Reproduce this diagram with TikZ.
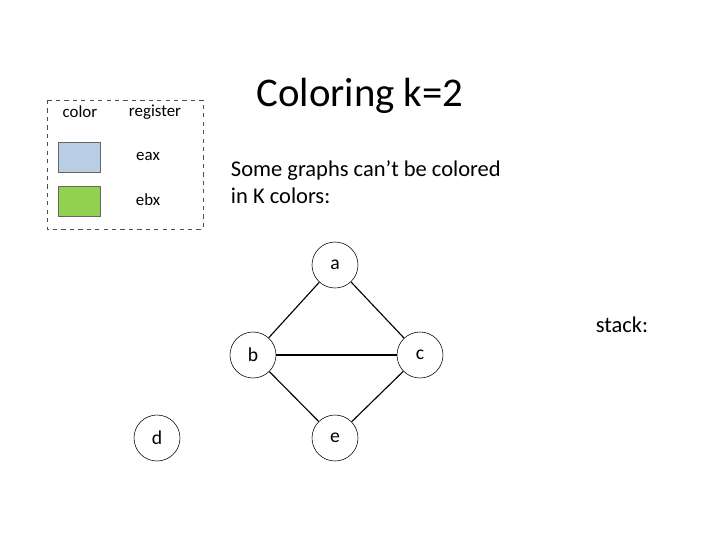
\documentclass[tikz,border=0pt]{standalone}
\usepackage{fontspec}
\setmainfont{Carlito}
\definecolor{regblue}{HTML}{B9CDE5}
\definecolor{reggreen}{HTML}{92D050}
\begin{document}
\begin{tikzpicture}[x=0.025cm,y=-0.025cm]
\tikzstyle{vertex}=[circle,draw=black,fill=white,minimum size=1.15cm,inner sep=0pt,font=\fontsize{14}{16}\selectfont]
\tikzstyle{swatch}=[rectangle,draw=black!60,minimum width=1.05cm,minimum height=0.75cm,anchor=west]
\tikzstyle{label}=[font=\fontsize{12}{14}\selectfont]
\tikzstyle{link}=[thick]
\useasboundingbox (0,0) rectangle (720,540);

\draw [dashed,black!70] (47,100) rectangle (203,229);
\node [label] at (80,112) (hcolor) {color};
\node [label] at (155,112) (hreg) {register};
\node [swatch,fill=regblue] at (58,157) (sw1) {};
\node [swatch,fill=reggreen] at (58,201) (sw2) {};
\node [label] at (148,156) (eax) {eax};
\node [label] at (148,200) (ebx) {ebx};

\node [font=\fontsize{29}{33}\selectfont] at (360,96) (title) {Coloring k=2};
\node [anchor=west,align=left,font=\fontsize{16}{19}\selectfont] at (226,182) (note) {Some graphs can’t be colored\\in K colors:};
\node [font=\fontsize{16}{19}\selectfont] at (622,325) (stack) {stack:};

\node [vertex] at (335,265) (a) {a};
\node [vertex] at (253,355) (b) {b};
\node [vertex] at (420,355) (c) {c};
\node [vertex] at (157,438) (d) {d};
\node [vertex] at (335,438) (e) {e};

\draw [link] (a) -- (b);
\draw [link] (a) -- (c);
\draw [link] (b) -- (c);
\draw [link] (b) -- (e);
\draw [link] (c) -- (e);
\end{tikzpicture}
\end{document}
